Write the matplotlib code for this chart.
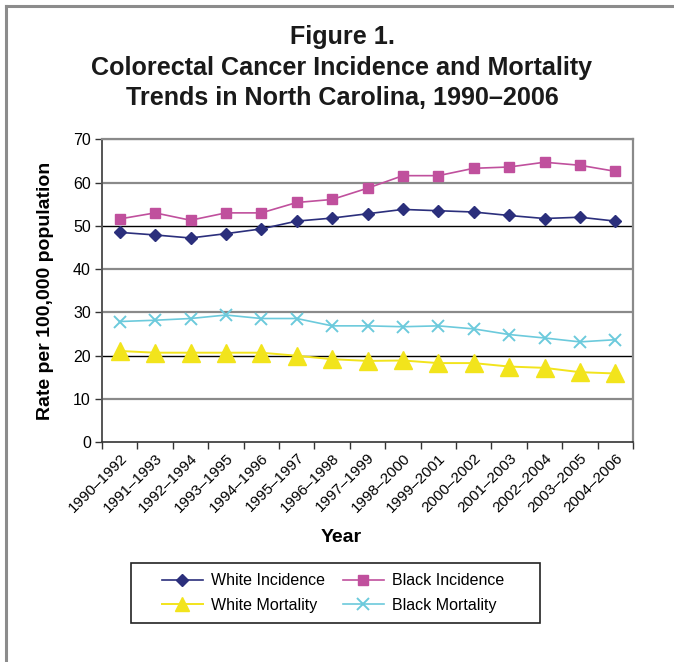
import matplotlib
matplotlib.use("Agg")
import matplotlib.pyplot as plt
from matplotlib.patches import Rectangle
from matplotlib.lines import Line2D

plt.rcParams['font.family'] = ['Liberation Sans', 'DejaVu Sans']

periods = ["1990–1992", "1991–1993", "1992–1994", "1993–1995", "1994–1996",
           "1995–1997", "1996–1998", "1997–1999", "1998–2000", "1999–2001",
           "2000–2002", "2001–2003", "2002–2004", "2003–2005", "2004–2006"]

white_incidence = [48.5, 47.9, 47.2, 48.2, 49.3, 51.1, 51.8, 52.8, 53.8, 53.5,
                   53.2, 52.4, 51.7, 52.0, 51.1]
black_incidence = [51.6, 53.0, 51.3, 53.0, 53.0, 55.4, 56.1, 58.7, 61.6, 61.6,
                   63.3, 63.6, 64.7, 64.0, 62.6]
white_mortality = [21.1, 20.7, 20.7, 20.7, 20.7, 20.0, 19.2, 18.8, 18.9, 18.3,
                   18.3, 17.5, 17.2, 16.2, 15.9]
black_mortality = [27.9, 28.2, 28.6, 29.4, 28.6, 28.6, 26.9, 26.9, 26.7, 26.9,
                   26.2, 24.9, 24.1, 23.2, 23.7]

W, H = 674, 662
fig = plt.figure(figsize=(W / 100, H / 100), dpi=100)

# outer frame (top and left rules)
fig.add_artist(Line2D([6 / W, 1], [1 - 5.5 / H, 1 - 5.5 / H], color="#8c8c8c", lw=2.2))
fig.add_artist(Line2D([6 / W, 6 / W], [2 / H, 1 - 5.5 / H], color="#8c8c8c", lw=2.2))

# title
title_lines = ["Figure 1.", "Colorectal Cancer Incidence and Mortality",
               "Trends in North Carolina, 1990–2006"]
for i, t in enumerate(title_lines):
    fig.text(342 / W, 1 - (37 + 30.5 * i) / H, t, ha="center", va="center",
             fontsize=18.1, fontweight="bold", color="#1a1a1a")

ax = fig.add_axes([102 / W, 1 - 442.3 / H, 531 / W, 303 / H])
x = list(range(len(periods)))

ax.set_xlim(-0.5, len(periods) - 0.5)
ax.set_ylim(0, 70)

# horizontal gridlines
for v in [10, 30, 40, 60, 70]:
    ax.axhline(v, color="#8a8a8a", lw=1.6, zorder=1)
for v in [20, 50]:
    ax.axhline(v, color="#000000", lw=1.0, zorder=1)

ax.plot(x, white_incidence, color="#2b2f7c", lw=1.2, marker="D", markersize=6.5,
        label="White Incidence", zorder=3)
ax.plot(x, black_incidence, color="#c0509d", lw=1.2, marker="s", markersize=7,
        label="Black Incidence", zorder=3)
ax.plot(x, white_mortality, color="#f2e41c", lw=1.4, marker="^", markersize=12.5,
        label="White Mortality", zorder=3)
ax.plot(x, black_mortality, color="#6ccadc", lw=1.2, marker="x", markersize=8,
        markeredgewidth=1.4, label="Black Mortality", zorder=3)

for s in ["top", "right"]:
    ax.spines[s].set_color("#8a8a8a")
    ax.spines[s].set_linewidth(1.6)
ax.spines["left"].set_color("#555555")
ax.spines["left"].set_linewidth(1.4)
ax.spines["bottom"].set_color("#333333")
ax.spines["bottom"].set_linewidth(1.2)

ax.set_yticks(range(0, 71, 10))
ax.tick_params(axis="y", direction="out", length=5, width=1.0, color="#333333",
               labelsize=11.5, pad=3)
ax.set_xticks(x)
ax.set_xticklabels(periods, rotation=45, ha="right", rotation_mode="anchor",
                   fontsize=11)
ax.tick_params(axis="x", length=0, pad=6)
ax.set_xticks([i - 0.5 for i in range(len(periods) + 1)], minor=True)
ax.tick_params(axis="x", which="minor", direction="out", length=5, width=1.0,
               color="#333333")

ax.set_ylabel("Rate per 100,000 population", fontsize=14, fontweight="bold")
ax.yaxis.set_label_coords(-0.090, 0.5)
fig.text(341 / W, 1 - 537 / H, "Year", ha="center", va="center",
         fontsize=14, fontweight="bold")

# legend box
fig.add_artist(Rectangle((131 / W, 1 - 623 / H), 409 / W, 60 / H,
                         fill=False, edgecolor="#222222", lw=1.2))
handles, labels = ax.get_legend_handles_labels()
order = [0, 2, 1, 3]
leg = fig.legend([handles[i] for i in order], [labels[i] for i in order],
                 ncol=2, frameon=False, fontsize=11.5, handlelength=2.6,
                 handletextpad=0.5, columnspacing=1.1, labelspacing=0.6,
                 loc="center", bbox_to_anchor=(333 / W, 1 - 593 / H))
for h in leg.legend_handles:
    if h.get_marker() == "^":
        h.set_markersize(10)

fig.savefig("out.png", dpi=100)
